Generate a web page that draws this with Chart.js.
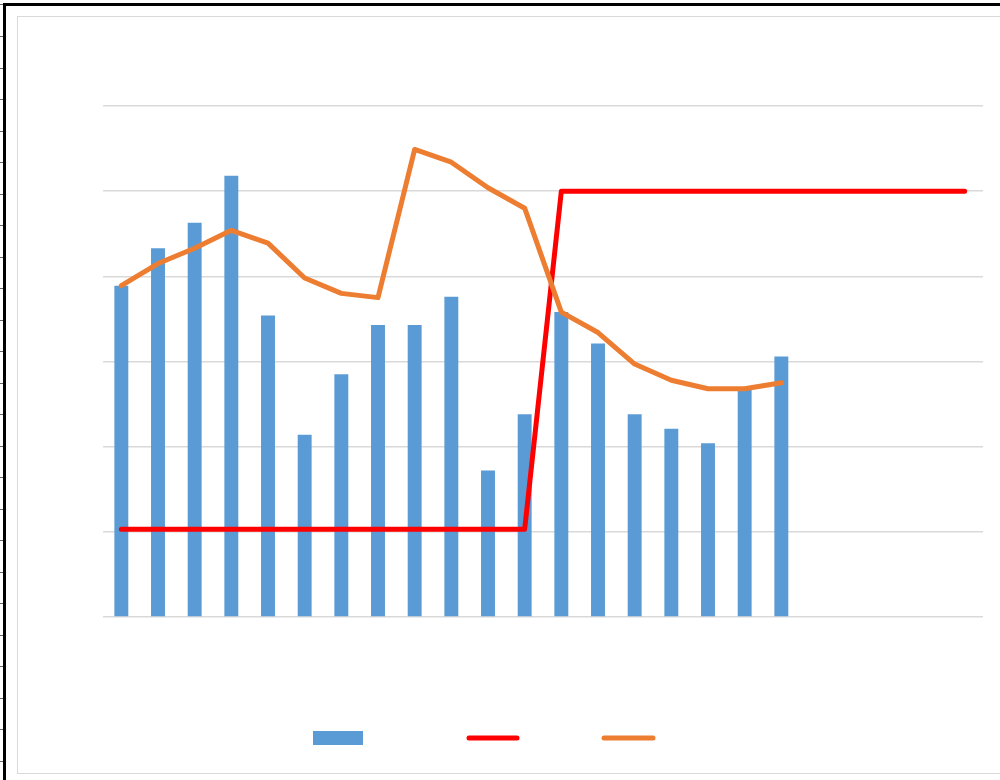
<!DOCTYPE html>
<html>
<head>
<meta charset="utf-8">
<script src="https://cdn.jsdelivr.net/npm/chart.js@4.4.1/dist/chart.umd.min.js"></script>
<style>
  html,body{margin:0;padding:0;background:#fff;width:1000px;height:780px;overflow:hidden;}
  .sheet{position:absolute;left:3px;top:3px;width:1000px;height:780px;border-left:3px solid #000;border-top:3px solid #000;}
  .rows{position:absolute;left:0;top:0;width:3px;height:780px;
    background:repeating-linear-gradient(to bottom,transparent 0,transparent 4.5px,#666 4.5px,#666 5.5px,transparent 5.5px,transparent 31.5px);}
  .frame{position:absolute;left:17px;top:16px;width:1000px;height:756px;border:1px solid #d9d9d9;background:#fff;}
  #chart{position:absolute;left:0;top:0;}
</style>
</head>
<body>
<div class="rows"></div>
<div class="sheet"></div>
<div class="frame"><canvas id="chart" width="982" height="756"></canvas></div>
<script>
// categories (no visible labels in the picture)
const categories = ['1','2','3','4','5','6','7','8','9','10','11','12',
                    '13','14','15','16','17','18','19','20','21','22','23','24'];

// blue bars
const barValues = [3.89, 4.33, 4.63, 5.18, 3.54, 2.14, 2.85, 3.43, 3.43, 3.76,
                   1.72, 2.38, 3.58, 3.21, 2.38, 2.21, 2.04, 2.70, 3.06];

// red step line
const redValues = [1.03, 1.03, 1.03, 1.03, 1.03, 1.03, 1.03, 1.03, 1.03, 1.03, 1.03, 1.03,
                   5.0, 5.0, 5.0, 5.0, 5.0, 5.0, 5.0, 5.0, 5.0, 5.0, 5.0, 5.0];

// orange line
const orangeValues = [3.89, 4.15, 4.33, 4.54, 4.39, 3.98, 3.80, 3.75, 5.49, 5.34,
                      5.04, 4.80, 3.58, 3.34, 2.97, 2.78, 2.68, 2.68, 2.75];

const yTicks = [0, 1, 2, 3, 4, 5, 6];

const BLUE = '#5B9BD5', RED = '#FF0000', ORANGE = '#ED7D31';

// legend: symbols only, no text in the reference
const legendSymbols = {
  id:'legendSymbols',
  afterDraw(chart){
    const ctx = chart.ctx;
    const y = chart.chartArea.bottom + 121;
    ctx.save();
    ctx.fillStyle = BLUE;
    ctx.fillRect(295, y - 7, 50, 14);
    ctx.lineCap = 'round';
    ctx.lineWidth = 5;
    ctx.strokeStyle = RED;
    ctx.beginPath(); ctx.moveTo(451, y); ctx.lineTo(499, y); ctx.stroke();
    ctx.strokeStyle = ORANGE;
    ctx.beginPath(); ctx.moveTo(586, y); ctx.lineTo(635, y); ctx.stroke();
    ctx.restore();
  }
};

new Chart(document.getElementById('chart').getContext('2d'), {
  type:'bar',
  data:{
    labels:categories,
    datasets:[
      {type:'line', label:'orange', data:orangeValues, borderColor:ORANGE, borderWidth:5,
       pointRadius:0, tension:0, fill:false, borderJoinStyle:'round', borderCapStyle:'round', order:1},
      {type:'line', label:'red', data:redValues, borderColor:RED, borderWidth:5,
       pointRadius:0, tension:0, fill:false, borderJoinStyle:'round', borderCapStyle:'round', order:2},
      {type:'bar', label:'bars', data:barValues, backgroundColor:BLUE,
       barPercentage:0.38, categoryPercentage:1, order:3}
    ]
  },
  options:{
    responsive:false,
    animation:false,
    layout:{padding:{left:85, right:17, top:89, bottom:156}},
    plugins:{legend:{display:false}, tooltip:{enabled:false}},
    scales:{
      x:{display:false},
      y:{
        min:yTicks[0], max:yTicks[yTicks.length-1],
        afterBuildTicks(axis){ axis.ticks = yTicks.map(v=>({value:v})); },
        ticks:{display:false},
        border:{display:false},
        grid:{color:'#d9d9d9', lineWidth:1.5, drawTicks:false}
      }
    }
  },
  plugins:[legendSymbols]
});
</script>
</body>
</html>
